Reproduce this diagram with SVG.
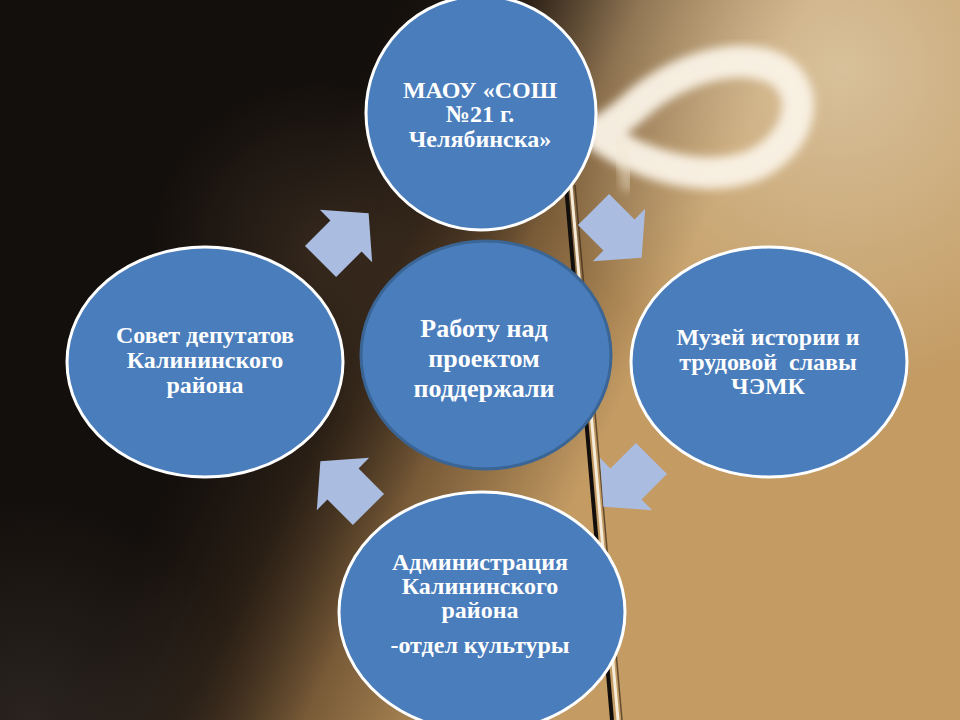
<svg xmlns="http://www.w3.org/2000/svg" width="960" height="720" viewBox="0 0 960 720">
<defs>
  <linearGradient id="bgTan" gradientUnits="userSpaceOnUse" x1="300" y1="200" x2="640" y2="360">
    <stop offset="0" stop-color="#4a3422" stop-opacity="0"/>
    <stop offset="0.3" stop-color="#5a4028" stop-opacity="0.3"/>
    <stop offset="0.6" stop-color="#9a7446" stop-opacity="0.75"/>
    <stop offset="1" stop-color="#c39b63" stop-opacity="1"/>
  </linearGradient>
  <radialGradient id="glowTR" gradientUnits="userSpaceOnUse" cx="840" cy="70" r="320">
    <stop offset="0" stop-color="#e0d0b2" stop-opacity="0.7"/>
    <stop offset="1" stop-color="#e0d0b2" stop-opacity="0"/>
  </radialGradient>
  <radialGradient id="glowBL" gradientUnits="userSpaceOnUse" cx="30" cy="720" r="220">
    <stop offset="0" stop-color="#3a322c" stop-opacity="0.6"/>
    <stop offset="1" stop-color="#3a322c" stop-opacity="0"/>
  </radialGradient>
  <radialGradient id="haze" gradientUnits="userSpaceOnUse" cx="320" cy="250" r="170">
    <stop offset="0" stop-color="#5a4330" stop-opacity="0.45"/>
    <stop offset="1" stop-color="#5a4330" stop-opacity="0"/>
  </radialGradient>
  <filter id="blur6" x="-20%" y="-20%" width="140%" height="140%">
    <feGaussianBlur stdDeviation="5"/>
  </filter>
  <polygon id="arrow" points="-36,-22 0,-22 0,-37 32,0 0,37 0,22 -36,22"/>
</defs>
<style>
  .node { fill: #4a7dbc; stroke: #ffffff; stroke-width: 3; }
  .hub { fill: #4a7dbc; stroke: #3a6594; stroke-width: 3; }
  .arr { fill: #aabde0; }
  .lbl { font-family: "Liberation Serif", "Times New Roman", serif; font-weight: bold; font-size: 24px; fill: #ffffff; text-anchor: middle; }
  .lblc { font-family: "Liberation Serif", "Times New Roman", serif; font-weight: bold; font-size: 26px; fill: #ffffff; text-anchor: middle; }
</style>

<!-- background photo approximation -->
<g id="background">
  <rect x="0" y="0" width="960" height="720" fill="#130f0c"/>
  <rect x="0" y="0" width="960" height="720" fill="url(#haze)"/>
  <rect x="0" y="0" width="960" height="720" fill="url(#bgTan)"/>
  <rect x="0" y="0" width="960" height="720" fill="url(#glowTR)"/>
  <rect x="0" y="0" width="960" height="720" fill="url(#glowBL)"/>
  <path d="M600,136 C640,164 700,184 752,166 C802,144 812,90 778,70 C740,50 682,68 642,100 C622,118 608,128 598,132" fill="none" stroke="#faf3e6" stroke-width="32" stroke-linecap="round" filter="url(#blur6)" opacity="0.95"/>
  <path d="M618,140 C622,160 626,175 628,190" fill="none" stroke="#f2e6d0" stroke-width="12" filter="url(#blur6)" opacity="0.5"/>
  <path d="M566,185 L612,720" fill="none" stroke="#120e0b" stroke-width="4"/>
  <path d="M571,185 L618,720" fill="none" stroke="#f5ebd8" stroke-width="3"/>
  <path d="M575,185 L622,720" fill="none" stroke="#3a2a1a" stroke-width="1.5" opacity="0.7"/>
</g>

<!-- connectors (block arrows) -->
<g id="connectors">
  <use href="#arrow" class="arr" transform="translate(346,236) rotate(-45)"/>
  <use href="#arrow" class="arr" transform="translate(619,235) rotate(45)"/>
  <use href="#arrow" class="arr" transform="translate(626,484) rotate(135)"/>
  <use href="#arrow" class="arr" transform="translate(343,484) rotate(-135)"/>
</g>

<g id="node-top">
  <ellipse class="node" cx="481" cy="113" rx="115" ry="117"/>
  <text class="lbl" x="480" y="98">МАОУ «СОШ</text>
  <text class="lbl" x="480" y="122">№21 г.</text>
  <text class="lbl" x="480" y="147">Челябинска»</text>
</g>

<g id="node-left">
  <ellipse class="node" cx="205" cy="362" rx="138" ry="115"/>
  <text class="lbl" x="205" y="343">Совет депутатов</text>
  <text class="lbl" x="205" y="368">Калининского</text>
  <text class="lbl" x="205" y="393">района</text>
</g>

<g id="node-right">
  <ellipse class="node" cx="769" cy="362" rx="138" ry="115"/>
  <text class="lbl" x="768" y="345">Музей истории и</text>
  <text class="lbl" x="768" y="370" xml:space="preserve">трудовой  славы</text>
  <text class="lbl" x="768" y="394">ЧЭМК</text>
</g>

<g id="node-bottom">
  <ellipse class="node" cx="482" cy="612" rx="143" ry="120"/>
  <text class="lbl" x="480" y="570">Администрация</text>
  <text class="lbl" x="480" y="594">Калининского</text>
  <text class="lbl" x="480" y="618">района</text>
  <text class="lbl" x="480" y="653">-отдел культуры</text>
</g>

<g id="node-center">
  <ellipse class="hub" cx="486" cy="355" rx="125" ry="114"/>
  <text class="lblc" x="484" y="337">Работу над</text>
  <text class="lblc" x="484" y="367">проектом</text>
  <text class="lblc" x="484" y="397">поддержали</text>
</g>
</svg>
